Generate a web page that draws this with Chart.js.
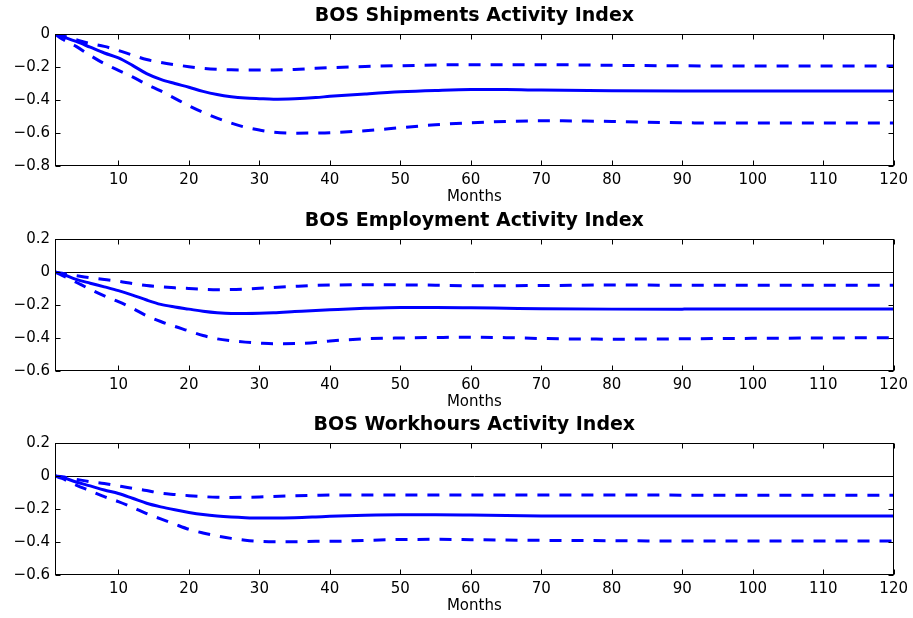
<!DOCTYPE html>
<html><head><meta charset="utf-8">
<script src="https://cdn.jsdelivr.net/npm/chart.js@4.4.0/dist/chart.umd.min.js"></script>
<style>
html,body{margin:0;padding:0;background:#fff;}
#wrap{position:relative;width:913px;height:618px;overflow:hidden;background:#fff}
.pane{position:absolute;left:0;width:913px;height:206px}
</style></head><body>
<div id="wrap">
<div class="pane" style="top:0"><canvas id="c1"></canvas></div>
<div class="pane" style="top:205px"><canvas id="c2"></canvas></div>
<div class="pane" style="top:409px"><canvas id="c3"></canvas></div>
</div>
<script>
// ---- data ----
const months = [1,2,4,6,8,10,12,14,16,18,20,22,24,26,28,30,32,35,38,40,45,50,55,60,65,70,80,90,100,110,120];
const xTickValues = [10,20,30,40,50,60,70,80,90,100,110,120];
const yTicksShip = [-0.8,-0.6,-0.4,-0.2,0];
const yTicksOther = [-0.6,-0.4,-0.2,0,0.2];
const titles = ['BOS Shipments Activity Index','BOS Employment Activity Index','BOS Workhours Activity Index'];
const xLabel = 'Months';

const shipMid = [0,-0.015,-0.045,-0.08,-0.115,-0.145,-0.19,-0.24,-0.275,-0.30,-0.323,-0.348,-0.367,-0.38,-0.388,-0.392,-0.395,-0.392,-0.385,-0.378,-0.363,-0.35,-0.342,-0.337,-0.337,-0.34,-0.344,-0.345,-0.345,-0.345,-0.345];
const shipUp  = [0,-0.01,-0.035,-0.058,-0.075,-0.10,-0.128,-0.155,-0.172,-0.186,-0.198,-0.208,-0.214,-0.217,-0.218,-0.218,-0.218,-0.215,-0.208,-0.204,-0.197,-0.192,-0.188,-0.186,-0.186,-0.186,-0.19,-0.193,-0.194,-0.194,-0.194];
const shipLo  = [0,-0.03,-0.075,-0.13,-0.18,-0.22,-0.26,-0.305,-0.345,-0.39,-0.435,-0.475,-0.51,-0.54,-0.565,-0.582,-0.595,-0.601,-0.6,-0.598,-0.586,-0.568,-0.55,-0.538,-0.53,-0.526,-0.53,-0.538,-0.54,-0.54,-0.54];

const empMid = [0,-0.012,-0.045,-0.068,-0.09,-0.113,-0.14,-0.17,-0.196,-0.212,-0.225,-0.238,-0.247,-0.251,-0.251,-0.25,-0.247,-0.24,-0.233,-0.229,-0.22,-0.215,-0.215,-0.217,-0.22,-0.223,-0.225,-0.225,-0.224,-0.224,-0.224];
const empUp  = [0,-0.008,-0.022,-0.035,-0.045,-0.056,-0.07,-0.082,-0.09,-0.096,-0.1,-0.104,-0.107,-0.106,-0.103,-0.099,-0.094,-0.087,-0.081,-0.079,-0.077,-0.078,-0.08,-0.083,-0.083,-0.082,-0.079,-0.08,-0.08,-0.08,-0.08];
const empLo  = [0,-0.02,-0.062,-0.105,-0.145,-0.18,-0.22,-0.265,-0.3,-0.33,-0.357,-0.385,-0.405,-0.417,-0.425,-0.431,-0.435,-0.434,-0.427,-0.418,-0.405,-0.4,-0.397,-0.395,-0.398,-0.403,-0.407,-0.405,-0.402,-0.4,-0.398];

const whMid = [0,-0.008,-0.036,-0.06,-0.085,-0.106,-0.135,-0.165,-0.187,-0.205,-0.221,-0.234,-0.243,-0.249,-0.253,-0.255,-0.255,-0.253,-0.248,-0.244,-0.238,-0.235,-0.235,-0.237,-0.24,-0.242,-0.243,-0.243,-0.243,-0.243,-0.243];
const whUp  = [0,-0.005,-0.02,-0.035,-0.046,-0.06,-0.075,-0.088,-0.104,-0.112,-0.119,-0.125,-0.129,-0.13,-0.129,-0.127,-0.124,-0.12,-0.117,-0.115,-0.115,-0.115,-0.115,-0.115,-0.115,-0.115,-0.115,-0.116,-0.117,-0.117,-0.117];
const whLo  = [0,-0.015,-0.055,-0.09,-0.125,-0.155,-0.19,-0.228,-0.26,-0.292,-0.323,-0.345,-0.363,-0.378,-0.389,-0.396,-0.399,-0.399,-0.396,-0.396,-0.39,-0.385,-0.384,-0.386,-0.388,-0.39,-0.392,-0.394,-0.394,-0.394,-0.394];

// ---- drawing ----
const FONT = 'DejaVu Sans';
const BLUE = '#0000ff';

const framePlugin = {
  id: 'frame',
  afterDatasetsDraw(chart) {
    const {ctx, chartArea: a, scales: {x, y}} = chart;
    ctx.save();
    ctx.strokeStyle = '#000';
    ctx.lineWidth = 1;
    const L = Math.round(a.left) + 0.5, R = Math.round(a.right) - 0.5;
    const T = Math.round(a.top) + 0.5, B = Math.round(a.bottom) - 0.5;
    ctx.strokeRect(L, T, R - L, B - T);
    const tl = 5;
    ctx.beginPath();
    x.ticks.forEach(t => {
      const px = Math.round(x.getPixelForValue(t.value)) + 0.5;
      ctx.moveTo(px, B); ctx.lineTo(px, B - tl);
      ctx.moveTo(px, T); ctx.lineTo(px, T + tl);
    });
    y.ticks.forEach(t => {
      const py = Math.round(y.getPixelForValue(t.value)) + 0.5;
      ctx.moveTo(L, py); ctx.lineTo(L + tl, py);
      ctx.moveTo(R, py); ctx.lineTo(R - tl, py);
    });
    ctx.stroke();
    ctx.restore();
  }
};

function fmt(v) {
  if (Math.abs(v) < 1e-9) return '0';
  const s = Math.abs(v).toFixed(1);
  return (v < 0 ? '\u2212' : '') + s;
}

function pts(arr) { return months.map((m, i) => ({x: m, y: arr[i]})); }

function makeChart(id, title, yTicks, mid, up, lo) {
  new Chart(document.getElementById(id), {
    type: 'line',
    data: {
      datasets: [
        {data: pts(up), borderColor: BLUE, borderWidth: 3, borderDash: [12, 10]},
        {data: pts(lo), borderColor: BLUE, borderWidth: 3, borderDash: [12, 10]},
        {data: pts(mid), borderColor: BLUE, borderWidth: 3}
      ]
    },
    options: {
      responsive: true, maintainAspectRatio: false, animation: false,
      layout: {padding: {left: 0, right: 18, top: 0, bottom: 0}},
      elements: {point: {radius: 0}, line: {tension: 0.4, cubicInterpolationMode: 'monotone', fill: false}},
      plugins: {legend: {display: false}, tooltip: {enabled: false}, title: {display: false}},
      scales: {
        x: {
          type: 'linear', min: 1, max: 120,
          afterBuildTicks: s => { s.ticks = xTickValues.map(v => ({value: v})); },
          afterFit: s => { s.height = 40; },
          grid: {display: false, drawTicks: false}, border: {display: false},
          ticks: {color: '#000', font: {family: FONT, size: 15}, padding: 5, maxRotation: 0, autoSkip: false},
          title: {display: true, text: xLabel, color: '#000', font: {family: FONT, size: 15}, padding: {top: 0, bottom: 0}}
        },
        top: {
          type: 'linear', position: 'top', min: 1, max: 120,
          afterFit: s => { s.height = 34; },
          grid: {display: false, drawTicks: false}, border: {display: false},
          ticks: {display: false},
          title: {display: true, text: title, color: '#000',
                  font: {family: FONT, size: 19, weight: 'bold'}, padding: {top: 5, bottom: 0}}
        },
        y: {
          type: 'linear', min: yTicks[0], max: yTicks[yTicks.length - 1],
          afterBuildTicks: s => { s.ticks = yTicks.map(v => ({value: v})); },
          afterFit: s => { s.width = 55; },
          grid: {drawTicks: false, lineWidth: 1,
                 color: c => (c.tick && Math.abs(c.tick.value) < 1e-9) ? '#000' : 'rgba(0,0,0,0)'},
          border: {display: false},
          ticks: {color: '#000', font: {family: FONT, size: 15}, padding: 5, callback: v => fmt(v)}
        }
      }
    },
    plugins: [framePlugin]
  });
}

makeChart('c1', titles[0], yTicksShip, shipMid, shipUp, shipLo);
makeChart('c2', titles[1], yTicksOther, empMid, empUp, empLo);
makeChart('c3', titles[2], yTicksOther, whMid, whUp, whLo);
</script>
</body></html>
